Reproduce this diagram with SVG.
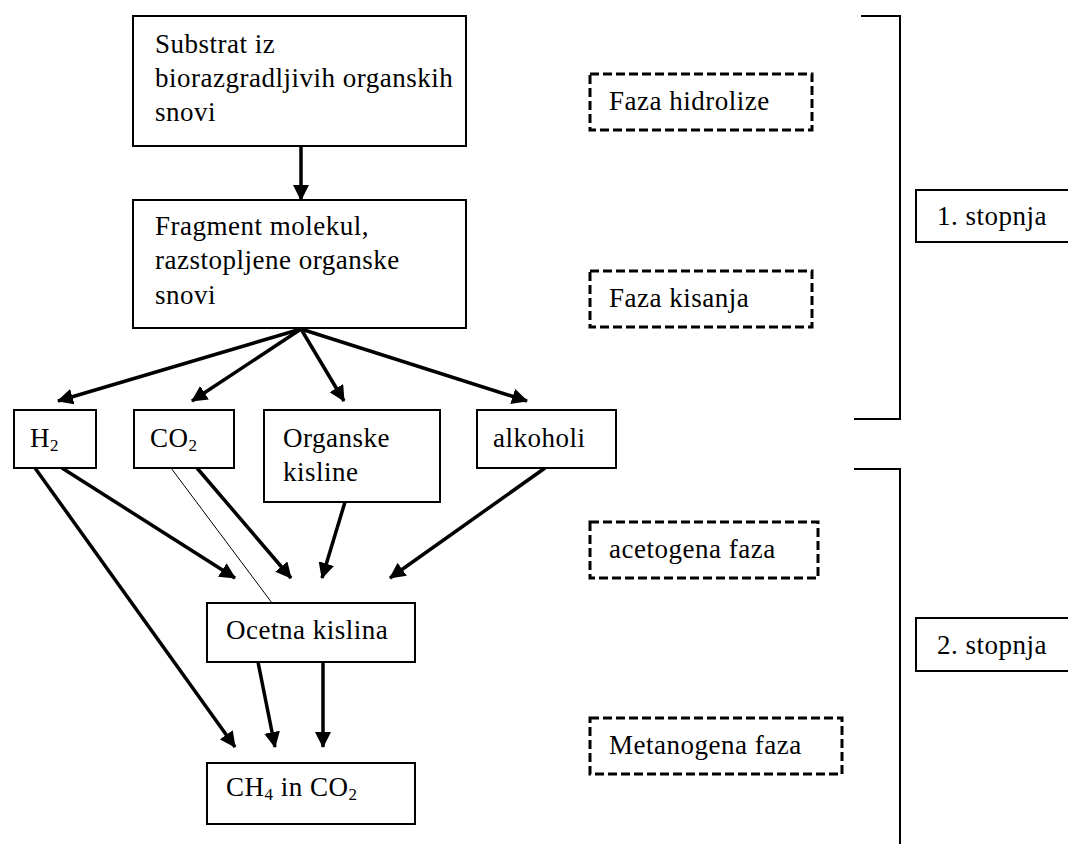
<svg xmlns="http://www.w3.org/2000/svg" width="1068" height="844" viewBox="0 0 1068 844">
  <style>
    text { font-family: "Liberation Serif", "Times New Roman", serif; font-size: 27px; fill: #000; letter-spacing: 0.5px; }
    .sub { font-size: 17px; }
    .box { fill: #fff; stroke: #000; stroke-width: 2; }
    .phase { fill: #fff; stroke: #000; stroke-width: 3; stroke-dasharray: 9 4; }
    .bracket { fill: none; stroke: #000; stroke-width: 2; }
    .arrow { stroke: #000; stroke-width: 3.5; fill: none; marker-end: url(#head); }
    .thin { stroke: #000; stroke-width: 1; fill: none; }
  </style>
  <defs>
    <marker id="head" markerUnits="userSpaceOnUse" markerWidth="16" markerHeight="16" refX="15" refY="8" orient="auto">
      <path d="M0,0 L16,8 L0,16 z" fill="#000"/>
    </marker>
  </defs>
  <rect width="1068" height="844" fill="#fff"/>

  <!-- connectors -->
  <g id="connectors">
    <line class="arrow" x1="301" y1="146" x2="301" y2="200"/>
    <line class="arrow" x1="301" y1="329" x2="58" y2="401"/>
    <line class="arrow" x1="301" y1="329" x2="192" y2="401"/>
    <line class="arrow" x1="301" y1="329" x2="344" y2="401"/>
    <line class="arrow" x1="301" y1="329" x2="527" y2="401"/>
    <line class="arrow" x1="62" y1="468" x2="235" y2="578"/>
    <line class="arrow" x1="35" y1="468" x2="235" y2="747"/>
    <line class="thin" x1="171" y1="468" x2="272" y2="603"/>
    <line class="arrow" x1="197" y1="468" x2="291" y2="578"/>
    <line class="arrow" x1="345" y1="502" x2="322" y2="578"/>
    <line class="arrow" x1="545" y1="468" x2="390" y2="578"/>
    <line class="arrow" x1="258" y1="662" x2="275" y2="747"/>
    <line class="arrow" x1="323" y1="662" x2="323" y2="747"/>
  </g>

  <g id="substrat">
    <rect class="box" x="133" y="16" width="333" height="130"/>
    <text x="155" y="53">Substrat iz</text>
    <text x="155" y="87">biorazgradljivih organskih</text>
    <text x="155" y="121">snovi</text>
  </g>
  <g id="fragment">
    <rect class="box" x="133" y="200" width="333" height="128"/>
    <text x="155" y="235">Fragment molekul,</text>
    <text x="155" y="269">razstopljene organske</text>
    <text x="155" y="304">snovi</text>
  </g>
  <g id="h2">
    <rect class="box" x="14" y="410" width="82" height="58"/>
    <text x="30" y="447">H<tspan class="sub" dy="4">2</tspan></text>
  </g>
  <g id="co2">
    <rect class="box" x="134" y="410" width="100" height="58"/>
    <text x="150" y="447">CO<tspan class="sub" dy="4">2</tspan></text>
  </g>
  <g id="organske">
    <rect class="box" x="264" y="410" width="176" height="92"/>
    <text x="283" y="447">Organske</text>
    <text x="283" y="481">kisline</text>
  </g>
  <g id="alkoholi">
    <rect class="box" x="477" y="410" width="139" height="58"/>
    <text x="493" y="447">alkoholi</text>
  </g>
  <g id="ocetna">
    <rect class="box" x="207" y="603" width="208" height="59"/>
    <text x="226" y="639">Ocetna kislina</text>
  </g>
  <g id="ch4">
    <rect class="box" x="207" y="763" width="208" height="61"/>
    <text x="226" y="796">CH<tspan class="sub" dy="4">4</tspan><tspan dy="-4"> in CO</tspan><tspan class="sub" dy="4">2</tspan></text>
  </g>

  <g id="faza-hidrolize">
    <rect class="phase" x="590" y="74" width="222" height="56"/>
    <text x="609" y="110">Faza hidrolize</text>
  </g>
  <g id="faza-kisanja">
    <rect class="phase" x="590" y="271" width="222" height="56"/>
    <text x="609" y="307">Faza kisanja</text>
  </g>
  <g id="acetogena-faza">
    <rect class="phase" x="590" y="522" width="228" height="56"/>
    <text x="609" y="558">acetogena faza</text>
  </g>
  <g id="metanogena-faza">
    <rect class="phase" x="590" y="718" width="252" height="56"/>
    <text x="609" y="754">Metanogena faza</text>
  </g>

  <g id="stopnja-1">
    <path class="bracket" d="M861,16 H900 V419 H854"/>
    <rect class="box" x="916" y="190" width="160" height="52"/>
    <text x="937" y="225">1. stopnja</text>
  </g>
  <g id="stopnja-2">
    <path class="bracket" d="M854,469 H900 V844"/>
    <rect class="box" x="916" y="618" width="160" height="53"/>
    <text x="937" y="654">2. stopnja</text>
  </g>
</svg>
